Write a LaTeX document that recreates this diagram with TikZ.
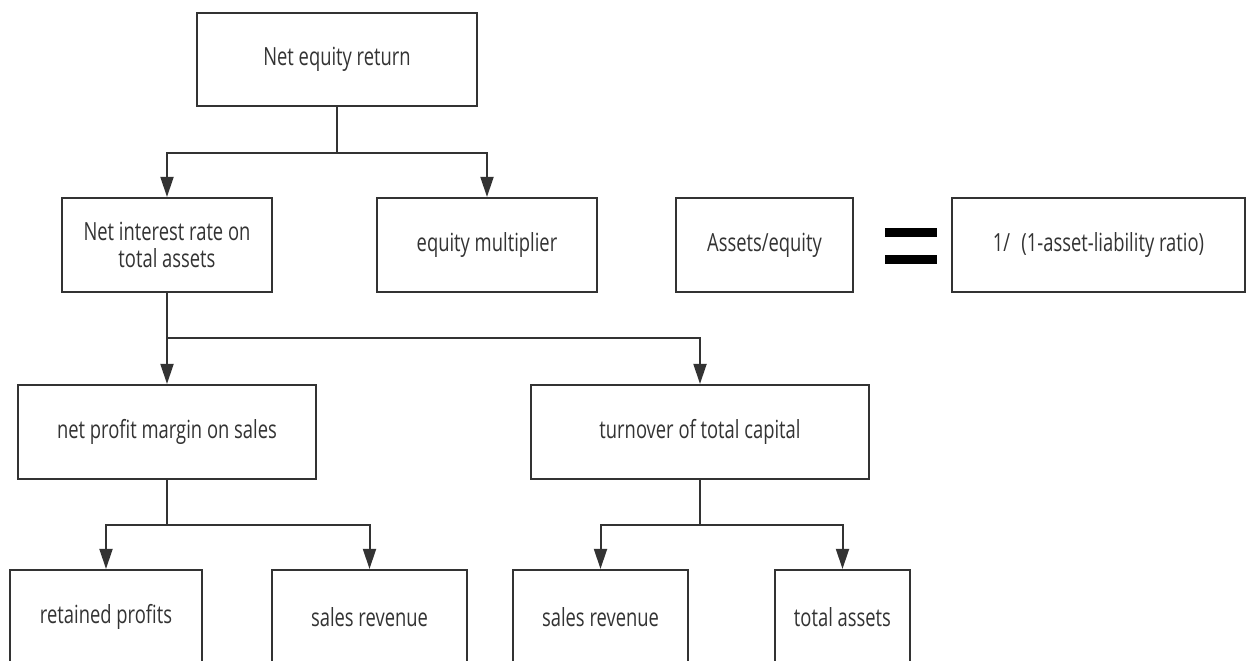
\documentclass[tikz,border=0pt]{standalone}
\usepackage{fontspec}
\setmainfont{Open Sans}[FakeStretch=0.735]
\usetikzlibrary{arrows.meta}
\definecolor{ink}{HTML}{333333}
\tikzset{
  box/.style={draw=ink, line width=2.2pt, text=ink, inner sep=0pt, align=center,
    font=\fontsize{25}{27}\selectfont},
  arr/.style={draw=ink, line width=2pt, -{Triangle[length=20pt,width=13pt]}},
  bar/.style={fill=black, draw=none}
}
\begin{document}
\begin{tikzpicture}[x=1pt,y=-1pt]
\clip (0,0) rectangle (1251,661);
\fill[white] (0,0) rectangle (1251,661);
% row 1
\node[box, minimum width=280pt, minimum height=93pt] (top) at (337,59.5) {Net equity return};
% row 2
\node[box, minimum width=210pt, minimum height=94pt] (nir) at (167,245) {Net interest rate on\\total assets};
\node[box, minimum width=220pt, minimum height=94pt] (em) at (487,245) {equity multiplier};
\node[box, minimum width=177pt, minimum height=94pt] (ae) at (764.5,245) {Assets/equity};
\node[box, minimum width=293pt, minimum height=94pt] (ratio) at (1098.5,245) {1/\hspace{0.45em}(1-asset-liability ratio)};
\fill[bar] (885,228) rectangle (937,237);
\fill[bar] (885,255) rectangle (937,264);
% row 3
\node[box, minimum width=298pt, minimum height=94pt] (npm) at (167,432) {net profit margin on sales};
\node[box, minimum width=338pt, minimum height=94pt] (ttc) at (700,432) {turnover of total capital};
% row 4
\node[box, minimum width=192pt, minimum height=94pt] (rp) at (106,617) {retained profits};
\node[box, minimum width=195pt, minimum height=94pt] (sr1) at (369.5,617) {sales revenue};
\node[box, minimum width=175pt, minimum height=94pt] (sr2) at (600.5,617) {sales revenue};
\node[box, minimum width=135pt, minimum height=94pt] (ta) at (842.5,617) {total assets};
% connectors
\draw[arr] (top.south) -- ++(0,46) -| (nir.north);
\draw[arr] (top.south) -- ++(0,46) -| (em.north);
\draw[arr] (nir.south) -- (npm.north);
\draw[arr] (nir.south) -- ++(0,45) -| (ttc.north);
\draw[arr] (npm.south) -- ++(0,45) -| (rp.north);
\draw[arr] (npm.south) -- ++(0,45) -| (sr1.north);
\draw[arr] (ttc.south) -- ++(0,45) -| (sr2.north);
\draw[arr] (ttc.south) -- ++(0,45) -| (ta.north);
\end{tikzpicture}
\end{document}
